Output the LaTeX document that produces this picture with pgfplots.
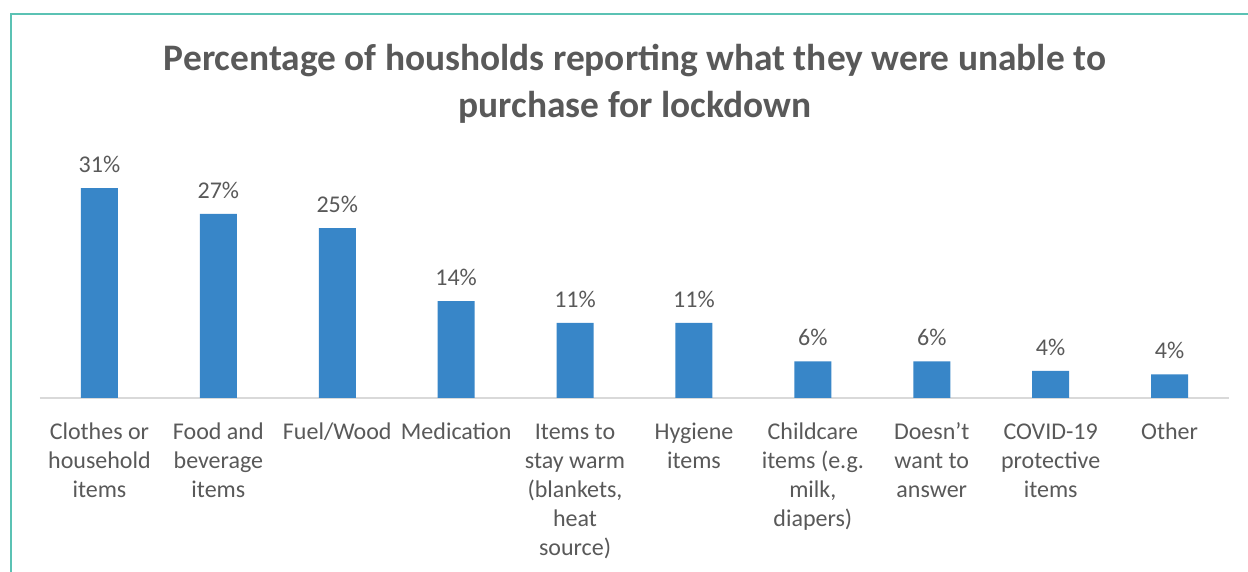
\documentclass[border=0pt]{standalone}
\usepackage{fontspec}
\setmainfont{Carlito}
\usepackage{pgfplots}
\usepackage{pgfplotstable}
\pgfplotsset{compat=1.18}
\definecolor{barblue}{RGB}{56,134,200}
\definecolor{txtgray}{RGB}{89,89,89}
\definecolor{frameteal}{RGB}{91,194,180}
\definecolor{axisgray}{RGB}{217,217,217}
\pgfplotstableread{
x y lab
0 31.0 31
1 27.2 27
2 25.1 25
3 14.3 14
4 11.1 11
5 11.1 11
6 5.4 6
7 5.4 6
8 4.0 4
9 3.5 4
}\datatable
\begin{document}
\begin{tikzpicture}
\useasboundingbox (0,0) rectangle (624pt,286pt);
\fill[white] (0,0) rectangle (624pt,286pt);
\draw[frameteal, line width=1pt] (5.5pt,0) -- (5.5pt,278.75pt) -- (624pt,278.75pt);
\node[font=\fontsize{18.7}{23.5}\selectfont\bfseries, text=txtgray, align=center] at (317.5pt,244.3pt)
  {Percentage of housholds reporting what they were unable to\\purchase for lockdown};
\begin{axis}[
  at={(20pt,87pt)}, anchor=south west,
  width=594.5pt, height=111.7pt, scale only axis,
  xmin=-0.5, xmax=9.5, ymin=0, ymax=33,
  enlargelimits=false, clip=false,
  axis x line=bottom, axis y line=none,
  x axis line style={-, color=axisgray, line width=0.8pt},
  major tick length=0pt,
  xtick={0,...,9},
  xticklabels={{\strut Clothes or\\household\\items},{\strut Food and\\beverage\\items},{\strut Fuel/Wood},{\strut Medication},{\strut Items to\\stay warm\\(blankets,\\heat\\source)},{\strut Hygiene\\items},{\strut Childcare\\items (e.g.\\milk,\\diapers)},{\strut Doesn’t\\want to\\answer},{\strut COVID-19\\protective\\items},{\strut Other}},
  xticklabel style={align=center, text=txtgray, font=\fontsize{12}{14.5}\selectfont, anchor=north, yshift=-7pt},
  ytick=\empty,
]
\addplot[ybar, bar width=18.5pt, fill=barblue, draw=none,
  point meta=explicit symbolic,
  nodes near coords={\pgfplotspointmeta\%},
  every node near coord/.append style={text=txtgray, font=\fontsize{12}{14}\selectfont, anchor=south, inner sep=0pt, yshift=7.5pt}]
  table[x=x, y=y, meta=lab] {\datatable};
\end{axis}
\end{tikzpicture}
\end{document}
